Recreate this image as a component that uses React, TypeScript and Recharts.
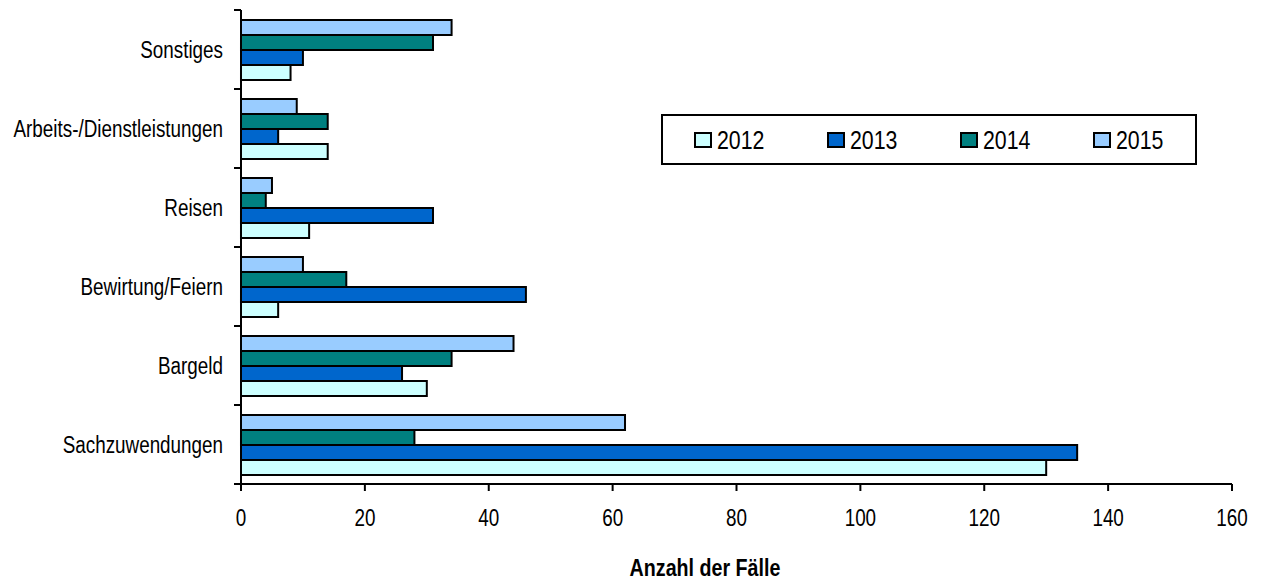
import React from "react";
import { Bar, BarChart, Legend, XAxis, YAxis } from "recharts";

// categories listed top to bottom as drawn
const categories = [
  "Sonstiges",
  "Arbeits-/Dienstleistungen",
  "Reisen",
  "Bewirtung/Feiern",
  "Bargeld",
  "Sachzuwendungen",
];
const years = ["2012", "2013", "2014", "2015"];
const v2012 = [8, 14, 11, 6, 30, 130];
const v2013 = [10, 6, 31, 46, 26, 135];
const v2014 = [31, 14, 4, 17, 34, 28];
const v2015 = [34, 9, 5, 10, 44, 62];
const xTicks = [0, 20, 40, 60, 80, 100, 120, 140, 160];

const colors: Record<string, string> = {
  "2012": "#CCFFFF",
  "2013": "#0066CC",
  "2014": "#008080",
  "2015": "#99CCFF",
};

const data = categories.map((name, i) => ({
  name,
  "2012": v2012[i],
  "2013": v2013[i],
  "2014": v2014[i],
  "2015": v2015[i],
}));

// no narrow face installed, so squeeze Liberation Sans horizontally
const FONT = "'Liberation Sans', Arial, sans-serif";
const SQUEEZE = 0.82;
const AXIS_X = 241;
const HALF_BAND = 39.5;

function YTick(props: any) {
  const { x, y, payload } = props;
  return (
    <g>
      <line x1={AXIS_X - 7} x2={AXIS_X} y1={y - HALF_BAND} y2={y - HALF_BAND} stroke="#000" strokeWidth={2} />
      <line x1={AXIS_X - 7} x2={AXIS_X} y1={y + HALF_BAND} y2={y + HALF_BAND} stroke="#000" strokeWidth={2} />
      <text
        transform={`translate(${x},${y}) scale(${SQUEEZE},1)`}
        dy="0.355em"
        textAnchor="end"
        fontFamily={FONT}
        fontSize={23}
        fill="#000"
      >
        {payload.value}
      </text>
    </g>
  );
}

function XTick(props: any) {
  const { x, y, payload } = props;
  return (
    <text
      transform={`translate(${x},${y}) scale(${SQUEEZE},1)`}
      dy="0.71em"
      textAnchor="middle"
      fontFamily={FONT}
      fontSize={23}
      fill="#000"
    >
      {payload.value}
    </text>
  );
}

// the title sits a bit left of the plot centre in the original
function AxisTitle() {
  return (
    <text
      transform={`translate(705,576) scale(${SQUEEZE},1)`}
      textAnchor="middle"
      fontFamily={FONT}
      fontSize={24}
      fontWeight="bold"
      fill="#000"
    >
      Anzahl der Fälle
    </text>
  );
}

function LegendBox() {
  return (
    <div
      style={{
        boxSizing: "border-box",
        width: 536,
        height: 51,
        border: "2px solid #000",
        background: "#fff",
        display: "flex",
        alignItems: "center",
        fontFamily: FONT,
        fontSize: 26,
        lineHeight: "26px",
        color: "#000",
      }}
    >
      {years.map((yr) => (
        <div key={yr} style={{ flex: 1, display: "flex", alignItems: "center", justifyContent: "center" }}>
          <span
            style={{
              display: "inline-block",
              boxSizing: "border-box",
              width: 18,
              height: 16,
              border: "2px solid #000",
              background: colors[yr],
              marginRight: 5,
            }}
          />
          <span
            style={{
              display: "inline-block",
              transform: `scale(${SQUEEZE},1)`,
              transformOrigin: "left center",
              marginRight: -10,
            }}
          >
            {yr}
          </span>
        </div>
      ))}
    </div>
  );
}

export default function App() {
  return (
    <div style={{ position: "absolute", left: 0, top: 0, background: "#fff" }}>
      <BarChart
        width={1266}
        height={582}
        data={data}
        layout="vertical"
        margin={{ top: 10, right: 34, bottom: 0, left: 0 }}
        barCategoryGap={10}
        barGap={0}
      >
        <XAxis
          type="number"
          domain={[0, 160]}
          ticks={xTicks}
          interval={0}
          height={98}
          tickSize={7}
          tickMargin={19}
          tick={<XTick />}
          axisLine={{ stroke: "#000", strokeWidth: 2 }}
          tickLine={{ stroke: "#000", strokeWidth: 2 }}
          label={<AxisTitle />}
        />
        <YAxis
          type="category"
          dataKey="name"
          width={AXIS_X}
          interval={0}
          tickSize={7}
          tickMargin={11}
          tick={<YTick />}
          tickLine={false}
          axisLine={{ stroke: "#000", strokeWidth: 2 }}
        />
        <Legend
          layout="horizontal"
          verticalAlign="middle"
          align="center"
          content={() => <LegendBox />}
          wrapperStyle={{ position: "absolute", left: 661, top: 114, width: 536, height: 51 }}
        />
        {[...years].reverse().map((yr) => (
          <Bar
            key={yr}
            dataKey={yr}
            fill={colors[yr]}
            stroke="#000"
            strokeWidth={2}
            isAnimationActive={false}
          />
        ))}
      </BarChart>
    </div>
  );
}
